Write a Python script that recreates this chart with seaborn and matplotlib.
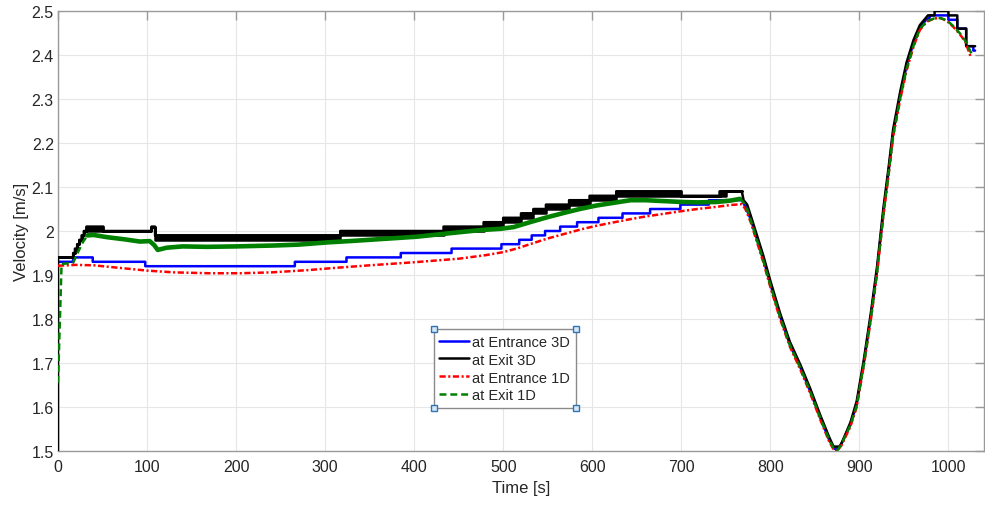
import matplotlib
matplotlib.use("Agg")
import numpy as np
import pandas as pd
import matplotlib.pyplot as plt
from matplotlib.lines import Line2D
import seaborn as sns

# ---------------- data ----------------
# Entrance 3D (blue): quantised plateau levels, transient, and final steps
ent3d_step_t = [0, 17, 39, 98, 266, 324, 385, 442, 498, 518, 532, 547, 564, 583, 607, 634, 665, 699, 731]
ent3d_step_v = [1.93, 1.94, 1.93, 1.92, 1.93, 1.94, 1.95, 1.96, 1.97, 1.98, 1.99, 2.00, 2.01, 2.02,
                2.03, 2.04, 2.05, 2.06, 2.07]
ent3d_tr_t = [768, 772, 778, 785, 792, 800, 811, 822, 834, 845, 856, 866, 872, 876, 880, 890, 897,
              905, 913, 920, 927, 933, 938, 946, 953, 961, 968, 975, 979]
ent3d_tr_v = [2.07, 2.055, 2.027, 1.982, 1.937, 1.88, 1.806, 1.742, 1.689, 1.635, 1.576, 1.526, 1.505,
              1.505, 1.517, 1.56, 1.607, 1.70, 1.807, 1.913, 2.043, 2.138, 2.223, 2.31, 2.375, 2.428,
              2.462, 2.48, 2.485]
ent3d_end_t = [979, 1000, 1010, 1020, 1028]
ent3d_end_v = [2.49, 2.48, 2.46, 2.42, 2.41]
ent3d_t_stop = 1030

# Exit 3D (black): plateau levels with flicker band (low / high level)
exit3d_step_t = [0, 17, 19, 21.5, 24, 26.5, 29, 32, 51, 105, 109, 317, 433, 478, 500, 520, 534, 548,
                 574, 597, 627, 700, 743, 750]
exit3d_step_lo = [1.94, 1.95, 1.96, 1.97, 1.98, 1.99, 2.00, 2.00, 2.00, 2.01, 1.98, 1.99, 2.00, 2.01,
                  2.02, 2.03, 2.04, 2.05, 2.06, 2.07, 2.08, 2.08, 2.08, 2.09]
exit3d_step_hi = [1.94, 1.95, 1.96, 1.97, 1.98, 1.99, 2.00, 2.01, 2.00, 2.01, 1.99, 2.00, 2.01, 2.02,
                  2.03, 2.04, 2.05, 2.06, 2.07, 2.08, 2.09, 2.08, 2.09, 2.09]
exit3d_tr_t = [768, 770, 774, 778, 785, 792, 800, 811, 822, 834, 845, 856, 866, 871, 878, 881, 890,
               897, 905, 913, 920, 927, 933, 938, 946, 953, 961, 968, 975, 977]
exit3d_tr_v = [2.09, 2.07, 2.06, 2.035, 1.99, 1.945, 1.887, 1.813, 1.748, 1.695, 1.641, 1.582, 1.532,
               1.51, 1.51, 1.522, 1.565, 1.613, 1.707, 1.815, 1.921, 2.052, 2.147, 2.232, 2.318,
               2.383, 2.435, 2.468, 2.485, 2.49]
exit3d_end_t = [977, 984.5, 1000, 1010, 1020]
exit3d_end_v = [2.49, 2.50, 2.49, 2.46, 2.42]
exit3d_t_stop = 1030

# Entrance 1D (red)
ent1d_t = [0, 20, 40, 60, 80, 100, 130, 170, 205, 240, 280, 310, 350, 400, 450, 480, 500, 515, 530,
           550, 568, 590, 605, 625, 643, 660, 680, 700, 718, 740, 755, 768, 772, 778, 785, 792, 800,
           811, 822, 834, 845, 856, 866, 872, 875, 880, 890, 897, 905, 913, 920, 927, 933, 938, 946,
           953, 961, 968, 976, 984, 991, 998, 1006, 1013, 1019, 1024.7]
ent1d_v = [1.921, 1.923, 1.922, 1.918, 1.914, 1.910, 1.906, 1.904, 1.904, 1.906, 1.911, 1.916, 1.922,
           1.929, 1.937, 1.945, 1.952, 1.960, 1.970, 1.983, 1.993, 2.005, 2.012, 2.020, 2.027, 2.033,
           2.039, 2.045, 2.050, 2.055, 2.059, 2.061, 2.05, 2.02, 1.975, 1.93, 1.873, 1.80, 1.737,
           1.684, 1.63, 1.572, 1.522, 1.50, 1.50, 1.513, 1.556, 1.60, 1.694, 1.80, 1.905, 2.035,
           2.13, 2.215, 2.30, 2.365, 2.42, 2.457, 2.476, 2.483, 2.484, 2.478, 2.463, 2.447, 2.43,
           2.398]

# Exit 1D (green): start-up, noisy plateau, transient
exit1d_start_t = [0, 4, 17, 22, 28, 33]
exit1d_start_v = [1.655, 1.925, 1.928, 1.95, 1.975, 1.99]
exit1d_mid_t = [33, 40, 55, 75, 92, 103, 108, 112, 122, 140, 167, 200, 242, 270, 302, 335, 365, 403,
                440, 474, 497, 512, 530, 549, 568, 586, 605, 624, 643, 660, 680, 700, 718, 740, 755,
                766]
exit1d_mid_v = [1.99, 1.991, 1.986, 1.981, 1.976, 1.977, 1.968, 1.957, 1.962, 1.965, 1.964, 1.965,
                1.967, 1.969, 1.974, 1.978, 1.982, 1.987, 1.995, 2.002, 2.005, 2.009, 2.02, 2.031,
                2.041, 2.05, 2.058, 2.064, 2.07, 2.07, 2.068, 2.066, 2.065, 2.066, 2.069, 2.073]
exit1d_tr_t = [766, 770, 774, 778, 785, 792, 800, 811, 822, 834, 845, 856, 866, 872, 876, 880, 890,
               897, 905, 913, 920, 927, 933, 938, 946, 953, 961, 968, 976, 984, 991, 998, 1006, 1013,
               1019, 1026.5]
exit1d_tr_v = [2.073, 2.065, 2.05, 2.025, 1.979, 1.934, 1.877, 1.804, 1.741, 1.688, 1.634, 1.576,
               1.526, 1.503, 1.503, 1.516, 1.559, 1.603, 1.697, 1.803, 1.908, 2.038, 2.133, 2.218,
               2.303, 2.368, 2.422, 2.459, 2.477, 2.483, 2.484, 2.479, 2.465, 2.449, 2.432, 2.401]

labels = ["at Entrance 3D", "at Exit 3D", "at Entrance 1D", "at Exit 1D"]
x_ticks = list(range(0, 1001, 100))
y_ticks = [1.5, 1.6, 1.7, 1.8, 1.9, 2.0, 2.1, 2.2, 2.3, 2.4, 2.5]
y_ticklabels = ["1.5", "1.6", "1.7", "1.8", "1.9", "2", "2.1", "2.2", "2.3", "2.4", "2.5"]


def stairs(edges, levels, t_stop):
    """Vertices of a piecewise-constant signal."""
    bounds = list(edges) + [t_stop]
    xs, ys = [], []
    for i, lv in enumerate(levels):
        xs += [bounds[i], bounds[i + 1]]
        ys += [lv, lv]
    return xs, ys


# ---------------- assemble series ----------------
bx1, by1 = stairs(ent3d_step_t, ent3d_step_v, ent3d_tr_t[0])
bx2, by2 = stairs(ent3d_end_t, ent3d_end_v, ent3d_t_stop)
blue = pd.DataFrame({"t": bx1 + ent3d_tr_t + bx2, "v": by1 + ent3d_tr_v + by2})

kx1, ky1 = stairs(exit3d_step_t, exit3d_step_hi, exit3d_tr_t[0])
kx2, ky2 = stairs(exit3d_end_t, exit3d_end_v, exit3d_t_stop)
black = pd.DataFrame({"t": [0] + kx1 + exit3d_tr_t + kx2, "v": [1.5] + ky1 + exit3d_tr_v + ky2})

red = pd.DataFrame({"t": ent1d_t, "v": ent1d_v})
g_start = pd.DataFrame({"t": exit1d_start_t, "v": exit1d_start_v})
g_mid = pd.DataFrame({"t": exit1d_mid_t, "v": exit1d_mid_v})
g_tr = pd.DataFrame({"t": exit1d_tr_t, "v": exit1d_tr_v})

# ---------------- style ----------------
sns.set_style("white")
plt.rcParams["font.family"] = ["Liberation Sans", "DejaVu Sans"]
plt.rcParams["lines.scale_dashes"] = False
text_col = "#262626"
axis_col = "#9a9a9a"

c_blue, c_black, c_red, c_green = "#0000ff", "#000000", "#ff0000", "#008000"
dashdot = (0, (4.5, 1.8, 1.5, 1.8))
dashed = (0, (5.0, 2.8))
lw = 1.8

fig = plt.figure(figsize=(9.85, 5.06), dpi=100)
ax = fig.add_axes([58 / 985, 54 / 506, 926 / 985, 440 / 506])

common = dict(estimator=None, sort=False, ax=ax, legend=False, zorder=3)
sns.lineplot(data=blue, x="t", y="v", color=c_blue, lw=lw, **common)

# flicker band of the 3D exit signal
ax.fill_between(exit3d_step_t + [exit3d_tr_t[0]], exit3d_step_lo + [exit3d_step_lo[-1]],
                exit3d_step_hi + [exit3d_step_hi[-1]], step="post", facecolor=c_black,
                edgecolor=c_black, lw=lw, zorder=3)
sns.lineplot(data=black, x="t", y="v", color=c_black, lw=lw, **common)

sns.lineplot(data=red, x="t", y="v", color=c_red, lw=lw, linestyle=dashdot, **common)

sns.lineplot(data=g_start, x="t", y="v", color=c_green, lw=lw, linestyle=dashed, **common)
sns.lineplot(data=g_mid, x="t", y="v", color=c_green, lw=3.3, **common)
sns.lineplot(data=g_tr, x="t", y="v", color=c_green, lw=lw, linestyle=dashed, **common)

ax.set_xlim(0, 1040)
ax.set_ylim(1.5, 2.5)
ax.set_xticks(x_ticks)
ax.set_yticks(y_ticks)
ax.set_yticklabels(y_ticklabels)
ax.grid(True, color="#e6e6e6", lw=0.8)
ax.set_axisbelow(True)
for s in ax.spines.values():
    s.set_color(axis_col)
    s.set_linewidth(1.0)
ax.tick_params(axis="both", which="major", direction="in", length=6.5, width=1.0,
               color=axis_col, labelcolor=text_col, labelsize=11.5,
               top=True, right=True)
ax.tick_params(axis="x", pad=6)
ax.tick_params(axis="y", pad=3)
ax.set_xlabel("Time [s]", fontsize=12, color=text_col, labelpad=4)
ax.set_ylabel("Velocity [m/s]", fontsize=12, color=text_col, labelpad=2)

handles = [
    Line2D([], [], color=c_blue, lw=lw),
    Line2D([], [], color=c_black, lw=lw),
    Line2D([], [], color=c_red, lw=lw, linestyle=dashdot),
    Line2D([], [], color=c_green, lw=lw, linestyle=dashed),
]
leg = ax.legend(handles, labels, loc="upper left", bbox_to_anchor=(0.406, 0.277),
                borderaxespad=0, fontsize=10.5, frameon=True, fancybox=False,
                handlelength=2.0, handletextpad=0.25, labelspacing=0.27,
                borderpad=0.38, framealpha=1)
leg.get_frame().set_edgecolor("#8a8a8a")
leg.get_frame().set_linewidth(1.0)
for txt in leg.get_texts():
    txt.set_color(text_col)

# selection handles at legend corners
fig.canvas.draw()
bb = leg.get_window_extent().transformed(fig.transFigure.inverted())
cx = [bb.x0, bb.x1, bb.x0, bb.x1]
cy = [bb.y0, bb.y0, bb.y1, bb.y1]
fig.add_artist(Line2D(cx, cy, transform=fig.transFigure, ls="none", marker="s",
                      markersize=4.2, markerfacecolor="#d6e6f5", markeredgecolor="#2e75b6",
                      markeredgewidth=1.0, zorder=10))

fig.savefig("out.png", dpi=100)
